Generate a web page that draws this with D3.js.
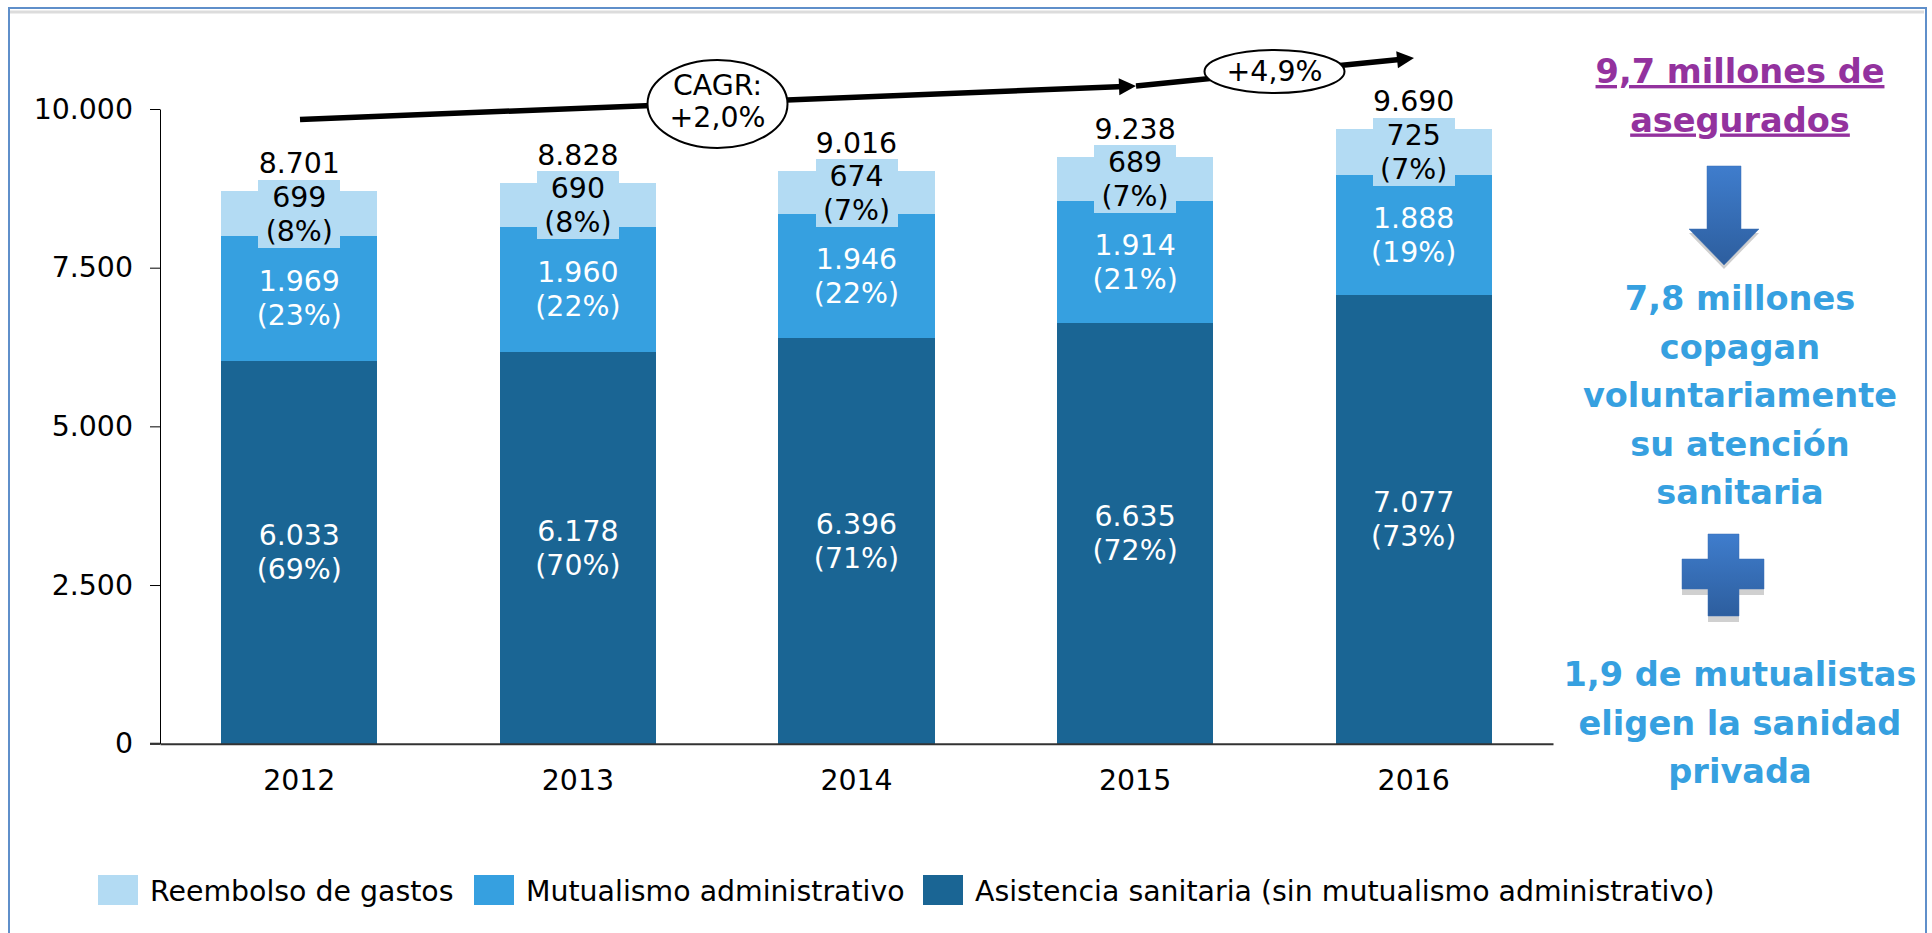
<!DOCTYPE html>
<html>
<head>
<meta charset="utf-8">
<script src="https://cdn.jsdelivr.net/npm/d3@7"></script>
<style>
html, body { margin: 0; padding: 0; background: #fff; overflow: hidden; }
text { font-family: "DejaVu Sans", sans-serif; }
</style>
</head>
<body>
<script>
var w = 1932,
    h = 933;

var years = ["2012", "2013", "2014", "2015", "2016"];
var asistencia = [6033, 6178, 6396, 6635, 7077];
var mutualismo = [1969, 1960, 1946, 1914, 1888];
var reembolso = [699, 690, 674, 689, 725];
var asistenciaPct = ["69%", "70%", "71%", "72%", "73%"];
var mutualismoPct = ["23%", "22%", "22%", "21%", "19%"];
var reembolsoPct = ["8%", "8%", "7%", "7%", "7%"];
var totals = [8701, 8828, 9016, 9238, 9690];
var yTicks = [0, 2500, 5000, 7500, 10000];
var legendNames = ["Reembolso de gastos", "Mutualismo administrativo", "Asistencia sanitaria (sin mutualismo administrativo)"];
var sideTop = ["9,7 millones de", "asegurados"];
var sideMiddle = ["7,8 millones", "copagan", "voluntariamente", "su atención", "sanitaria"];
var sideBottom = ["1,9 de mutualistas", "eligen la sanidad", "privada"];

var cLight = "#b3dbf3",
    cMid = "#36a0e0",
    cDark = "#1a6594";

var fs = 28.4;

var svg = d3.select("body").append("svg")
    .attr("width", w)
    .attr("height", h)
    .style("display", "block");

var defs = svg.append("defs");
var grad = defs.append("linearGradient")
    .attr("id", "shapeFill")
    .attr("x1", 0).attr("y1", 0)
    .attr("x2", 0).attr("y2", 1);
grad.append("stop").attr("offset", "0%").attr("stop-color", "#3f7dcd");
grad.append("stop").attr("offset", "100%").attr("stop-color", "#2d5e9e");

// frame
svg.append("line").attr("x1", 10).attr("x2", 1924).attr("y1", 12).attr("y2", 12)
    .attr("stroke", "#dcdcdc").attr("stroke-width", 3);
svg.append("path")
    .attr("d", "M9,933V8H1926V933")
    .attr("fill", "none")
    .attr("stroke", "#5f8fca")
    .attr("stroke-width", 2);

var x = d3.scaleBand().domain(years).range([160, 1553]).paddingInner(0.44).paddingOuter(0.22);
var y = d3.scaleLinear().domain([0, 10000]).range([743.7, 109]);
var esLocale = d3.formatLocale({decimal: ",", thousands: ".", grouping: [3], currency: ["", "€"]});
var fmt = esLocale.format(",d");

// stacked bars
var stackRows = years.map(function(d, i) {
    return {year: d, asistencia: asistencia[i], mutualismo: mutualismo[i], reembolso: reembolso[i]};
});
var stacked = d3.stack().keys(["asistencia", "mutualismo", "reembolso"])(stackRows);
var colors = {asistencia: cDark, mutualismo: cMid, reembolso: cLight};
var pcts = {asistencia: asistenciaPct, mutualismo: mutualismoPct, reembolso: reembolsoPct};

svg.selectAll("g.series")
    .data(stacked)
    .enter().append("g")
    .attr("class", "series")
    .attr("fill", function(d) { return colors[d.key]; })
    .attr("shape-rendering", "crispEdges")
    .selectAll("rect")
    .data(function(d) { return d; })
    .enter().append("rect")
    .attr("x", function(d) { return x(d.data.year); })
    .attr("width", x.bandwidth())
    .attr("y", function(d) { return y(d[1]); })
    .attr("height", function(d) { return y(d[0]) - y(d[1]); });

// label box behind the top segment text
svg.selectAll("rect.labelbox")
    .data(stacked[2])
    .enter().append("rect")
    .attr("class", "labelbox")
    .attr("shape-rendering", "crispEdges")
    .attr("x", function(d) { return x(d.data.year) + x.bandwidth() / 2 - 41; })
    .attr("width", 82)
    .attr("y", function(d) { return y((d[0] + d[1]) / 2) - 34; })
    .attr("height", 68)
    .attr("fill", cLight);

// segment labels
stacked.forEach(function(s) {
    var col = s.key == "reembolso" ? "#000" : "#fff";
    s.forEach(function(d, i) {
        var cx = x(d.data.year) + x.bandwidth() / 2,
            cy = y((d[0] + d[1]) / 2);
        svg.append("text")
            .attr("x", cx).attr("y", cy - 7)
            .attr("text-anchor", "middle")
            .attr("font-size", fs)
            .attr("fill", col)
            .text(fmt(d[1] - d[0]));
        svg.append("text")
            .attr("x", cx).attr("y", cy + 27)
            .attr("text-anchor", "middle")
            .attr("font-size", fs)
            .attr("fill", col)
            .text("(" + pcts[s.key][i] + ")");
    });
});

// totals
svg.selectAll("text.total")
    .data(totals)
    .enter().append("text")
    .attr("class", "total")
    .attr("x", function(d, i) { return x(years[i]) + x.bandwidth() / 2; })
    .attr("y", function(d) { return y(d) - 18; })
    .attr("text-anchor", "middle")
    .attr("font-size", fs)
    .text(function(d) { return fmt(d); });

// axes
var yAxis = svg.append("g")
    .attr("transform", "translate(160,0)")
    .call(d3.axisLeft(y).tickValues(yTicks).tickSize(10).tickSizeOuter(0).tickPadding(17).tickFormat(fmt));
yAxis.selectAll("text").attr("font-size", fs).attr("fill", "#000");
yAxis.selectAll("line,path").attr("stroke", "#000");

var xAxis = svg.append("g")
    .attr("transform", "translate(0,743.7)")
    .call(d3.axisBottom(x).tickSize(0).tickSizeOuter(0).tickPadding(26));
xAxis.selectAll("text").attr("font-size", fs).attr("fill", "#000");
xAxis.select("path").attr("stroke", "#333").attr("stroke-width", 2);
svg.append("line").attr("x1", 150).attr("x2", 160).attr("y1", 743.7).attr("y2", 743.7)
    .attr("stroke", "#333").attr("stroke-width", 2);

// CAGR arrows
function arrow(x1, y1, x2, y2) {
    var a = Math.atan2(y2 - y1, x2 - x1) * 180 / Math.PI;
    svg.append("line")
        .attr("x1", x1).attr("y1", y1)
        .attr("x2", x2 - 12 * Math.cos(a * Math.PI / 180))
        .attr("y2", y2 - 12 * Math.sin(a * Math.PI / 180))
        .attr("stroke", "#000").attr("stroke-width", 5.5);
    svg.append("path")
        .attr("d", "M0,0L-17,-8.5L-17,8.5Z")
        .attr("transform", "translate(" + x2 + "," + y2 + ") rotate(" + a + ")")
        .attr("fill", "#000");
}
arrow(300, 119.5, 1136, 86);
arrow(1136, 86, 1414, 58);

svg.append("ellipse").attr("cx", 717.5).attr("cy", 104).attr("rx", 70).attr("ry", 44)
    .attr("fill", "#fff").attr("stroke", "#000").attr("stroke-width", 2);
svg.append("ellipse").attr("cx", 1274.5).attr("cy", 71.5).attr("rx", 70).attr("ry", 21.5)
    .attr("fill", "#fff").attr("stroke", "#000").attr("stroke-width", 2);

svg.append("text").attr("x", 717.5).attr("y", 95).attr("text-anchor", "middle").attr("font-size", fs).text("CAGR:");
svg.append("text").attr("x", 717.5).attr("y", 127).attr("text-anchor", "middle").attr("font-size", fs).text("+2,0%");
svg.append("text").attr("x", 1274.5).attr("y", 81).attr("text-anchor", "middle").attr("font-size", fs).text("+4,9%");

// right hand side text
function sideLines(lines, firstBase, color, underline) {
    lines.forEach(function(t, i) {
        svg.append("text")
            .attr("x", 1740)
            .attr("y", firstBase + i * 48.5)
            .attr("text-anchor", "middle")
            .attr("font-size", 33.6)
            .attr("font-weight", "bold")
            .attr("fill", color)
            .attr("text-decoration", underline ? "underline" : null)
            .text(t);
    });
}
sideLines(sideTop, 83, "#93329e", true);
sideLines(sideMiddle, 310, cMid, false);
sideLines(sideBottom, 686, cMid, false);

// down arrow and plus
var arrowD = "M1707,166H1741V229H1759L1724,265L1689,229H1707Z";
svg.append("path").attr("d", arrowD).attr("transform", "translate(0,4)").attr("fill", "#cfcfcf");
svg.append("path").attr("d", arrowD).attr("fill", "url(#shapeFill)").attr("stroke", "#3a6fb5").attr("stroke-width", 0.5);

var plusD = "M1708,534H1739V559H1764V589H1739V616H1708V589H1682V559H1708Z";
svg.append("path").attr("d", plusD).attr("transform", "translate(0,6)").attr("fill", "#d0d0d0");
svg.append("path").attr("d", plusD).attr("fill", "url(#shapeFill)").attr("stroke", "#3a6fb5").attr("stroke-width", 0.5);

// legend
var legendX = [98, 474, 923];
var legendColors = [cLight, cMid, cDark];
var legend = svg.selectAll("g.legend")
    .data(legendNames)
    .enter().append("g")
    .attr("class", "legend")
    .attr("transform", function(d, i) { return "translate(" + legendX[i] + ",875)"; });
legend.append("rect")
    .attr("width", 40)
    .attr("height", 30)
    .attr("fill", function(d, i) { return legendColors[i]; });
legend.append("text")
    .attr("x", 52)
    .attr("y", 26)
    .attr("font-size", fs)
    .text(function(d) { return d; });
</script>
</body>
</html>
